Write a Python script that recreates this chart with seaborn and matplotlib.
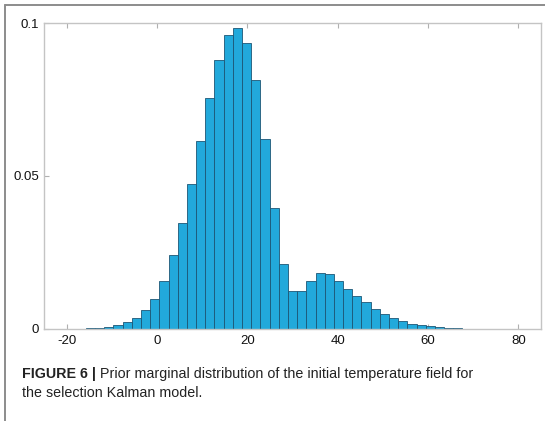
import numpy as np
import pandas as pd
import matplotlib
matplotlib.use("Agg")
import matplotlib.pyplot as plt
from matplotlib.lines import Line2D
import seaborn as sns

# ---- data ----
first_edge = -15.73
bin_width = 2.033
density = [0.0001, 0.0003, 0.0006, 0.0011, 0.0021, 0.0034, 0.0059,
           0.0097, 0.0157, 0.0239, 0.0345, 0.0474, 0.0615, 0.0756, 0.0878,
           0.0961, 0.0985, 0.0936, 0.0814, 0.0620, 0.0394, 0.0211, 0.0122,
           0.0122, 0.0154, 0.0181, 0.0178, 0.0157, 0.0130, 0.0106, 0.0086,
           0.0065, 0.0049, 0.0036, 0.0026, 0.0016, 0.0011, 0.0007, 0.0005,
           0.0003, 0.0002]
x_ticks = [-20, 0, 20, 40, 60, 80]
y_ticks = [0, 0.05, 0.1]
y_ticklabels = ["0", "0.05", "0.1"]
caption_bold = "FIGURE 6 |"
caption_rest = " Prior marginal distribution of the initial temperature field for"
caption_line2 = "the selection Kalman model."

bin_edges = first_edge + bin_width * np.arange(len(density) + 1)
bin_centers = (bin_edges[:-1] + bin_edges[1:]) / 2
df = pd.DataFrame({"temperature": bin_centers, "density": density})

sns.set_theme(style="white")
plt.rcParams["font.family"] = ["Liberation Sans", "DejaVu Sans"]

W, H = 545, 421
fig = plt.figure(figsize=(W / 100, H / 100), dpi=100)
ax = fig.add_axes([44 / W, (H - 328.5) / H, (541 - 44) / W, (328.5 - 23) / H])

sns.histplot(data=df, x="temperature", weights="density", bins=list(bin_edges), ax=ax,
             color="#22A9DB", edgecolor="#1d5675", linewidth=0.6, alpha=1.0)

ax.set_xlim(-25, 85)
ax.set_ylim(0, 0.1)
ax.set_xticks(x_ticks)
ax.set_xticklabels([str(v) for v in x_ticks])
ax.set_yticks(y_ticks)
ax.set_yticklabels(y_ticklabels)
ax.set_xlabel("")
ax.set_ylabel("")

for s in ax.spines.values():
    s.set_visible(True)
    s.set_color("#c4c4c4")
    s.set_linewidth(1.0)

ax.tick_params(axis="x", direction="in", length=3.5, width=0.8, color="#b0b0b0",
               labelsize=9.5, pad=5, top=True, bottom=True, labelcolor="#111111")
ax.tick_params(axis="y", direction="in", length=3.5, width=0.8, color="#b0b0b0",
               labelsize=9.5, pad=3.5, left=True, labelcolor="#111111")

# figure panel border (top and left)
fig.add_artist(Line2D([5 / W, 1], [1 - 4.7 / H, 1 - 4.7 / H], transform=fig.transFigure,
                      color="#8c8c8c", lw=1.4))
fig.add_artist(Line2D([5 / W, 5 / W], [0, 1 - 4.7 / H], transform=fig.transFigure,
                      color="#8c8c8c", lw=1.4))

# caption
t1 = fig.text(22 / W, 1 - 378 / H, caption_bold, fontsize=10.3, fontweight="bold",
              va="baseline", ha="left", color="#222222")
ax.annotate(caption_rest, xy=(1, 0), xycoords=t1, va="bottom", ha="left",
            fontsize=10.3, color="#222222", annotation_clip=False)
fig.text(22 / W, 1 - 397 / H, caption_line2, fontsize=10.3, va="baseline", ha="left",
         color="#222222")

fig.savefig("out.png", dpi=100)
